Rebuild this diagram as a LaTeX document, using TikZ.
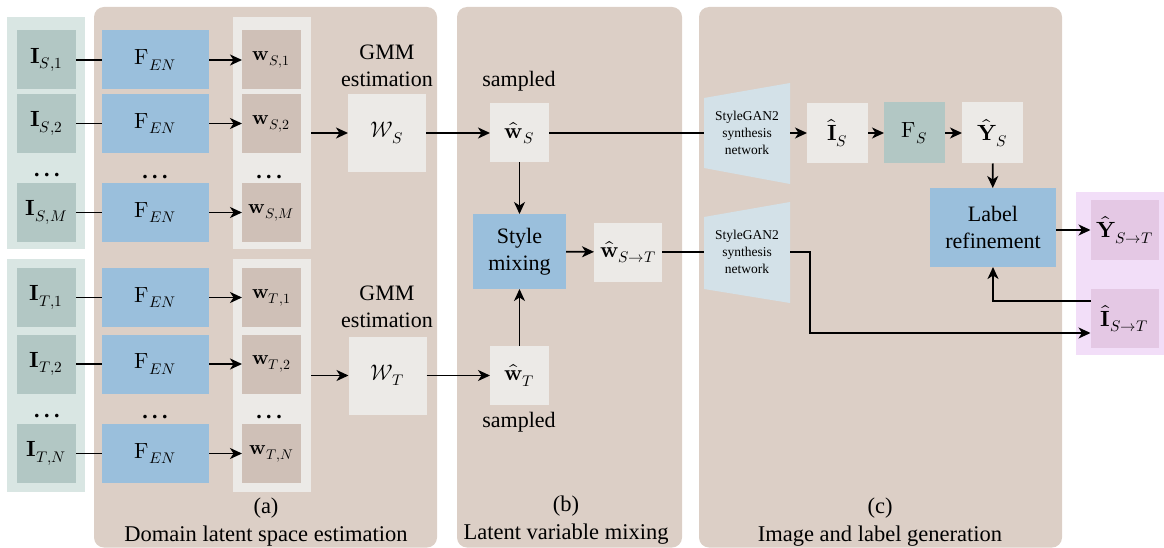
\documentclass[tikz,border=0pt]{standalone}
\usepackage{unicode-math}
\setmainfont{Liberation Serif}
\setmathfont{Latin Modern Math}
\usetikzlibrary{arrows.meta,calc}
\definecolor{cPanel}{HTML}{DCCFC6}
\definecolor{cGreenBg}{HTML}{D9E6E3}
\definecolor{cI}{HTML}{B2C7C4}
\definecolor{cF}{HTML}{9ABFDC}
\definecolor{cLight}{HTML}{ECEAE7}
\definecolor{cW}{HTML}{CFC0B7}
\definecolor{cSG}{HTML}{D3E1E8}
\definecolor{cPurpleBg}{HTML}{F2DEF8}
\definecolor{cPurple}{HTML}{E4C8E4}
\begin{document}
\begin{tikzpicture}[x=1pt,y=-1pt,
  every node/.style={font=\fontsize{22}{27}\selectfont, inner sep=0pt, outer sep=0pt},
  ibox/.style={fill=cI, minimum width=59pt, minimum height=59pt},
  fenbox/.style={fill=cF, minimum width=107pt, minimum height=59pt},
  wbox/.style={fill=cW, minimum width=59pt, minimum height=59pt, font=\fontsize{20}{24}\selectfont},
  lbox/.style={fill=cLight, minimum width=59pt, minimum height=59pt},
  pbox/.style={fill=cPurple, minimum width=68pt, minimum height=59pt},
  sgtext/.style={font=\fontsize{13.5}{17}\selectfont, align=center, minimum width=86pt, minimum height=70pt},
  captext/.style={font=\fontsize{22.5}{27}\selectfont},
  conn/.style={line width=1.7pt},
  arr/.style={conn, -{Stealth[length=12pt,width=11pt,inset=3.5pt]}},
  dotsnode/.style={font=\fontsize{22}{27}\selectfont\bfseries}
]
\useasboundingbox (0,0) rectangle (1164,548);
% panels
\fill[cPanel, rounded corners=10pt] (94,7) rectangle (437,547.5);
\fill[cPanel, rounded corners=10pt] (457,7) rectangle (682,547.5);
\fill[cPanel, rounded corners=10pt] (699,7) rectangle (1062,547.5);
\node[fill=cGreenBg, minimum width=78pt, minimum height=232pt] (gS) at (46,133) {};
\node[fill=cGreenBg, minimum width=78pt, minimum height=233pt] (gT) at (46,375.5) {};
\node[fill=cLight, minimum width=78pt, minimum height=232pt] (wcolS) at (272,133) {};
\node[fill=cLight, minimum width=78pt, minimum height=233pt] (wcolT) at (272,375.5) {};
\node[fill=cPurpleBg, minimum width=88pt, minimum height=163pt] (pbg) at (1120,273.5) {};

% source column
\node[ibox] (is1) at (46.5,60) {$\symbf{I}_{S,1}$};
\node[ibox] (is2) at (46.5,123.5) {$\symbf{I}_{S,2}$};
\node[ibox] (ism) at (46.5,212.5) {$\symbf{I}_{S,M}$};
\node[fenbox] (fs1) at (155.5,60) {$\symup{F}_{EN}$};
\node[fenbox] (fs2) at (155.5,123.5) {$\symup{F}_{EN}$};
\node[fenbox] (fsm) at (155.5,212.5) {$\symup{F}_{EN}$};
\node[wbox] (ws1) at (271.5,60) {$\symbf{w}_{S,1}$};
\node[wbox] (ws2) at (271.5,123.5) {$\symbf{w}_{S,2}$};
\node[wbox] (wsm) at (271.5,212.5) {$\symbf{w}_{S,M}$};
\node[dotsnode] (d1) at (47,175) {.\kern4.5pt.\kern4.5pt.};
\node[dotsnode] (d2) at (155,177) {.\kern4.5pt.\kern4.5pt.};
\node[dotsnode] (d3) at (269,177) {.\kern4.5pt.\kern4.5pt.};

% target column
\node[ibox] (it1) at (46.5,297.5) {$\symbf{I}_{T,1}$};
\node[ibox] (it2) at (46.5,364) {$\symbf{I}_{T,2}$};
\node[ibox] (itn) at (46.5,453.5) {$\symbf{I}_{T,N}$};
\node[fenbox] (ft1) at (155.5,297.5) {$\symup{F}_{EN}$};
\node[fenbox] (ft2) at (155.5,364) {$\symup{F}_{EN}$};
\node[fenbox] (ftn) at (155.5,453.5) {$\symup{F}_{EN}$};
\node[wbox] (wt1) at (271.5,297.5) {$\symbf{w}_{T,1}$};
\node[wbox] (wt2) at (271.5,364) {$\symbf{w}_{T,2}$};
\node[wbox] (wtn) at (271.5,453.5) {$\symbf{w}_{T,N}$};
\node[dotsnode] (d4) at (47,416) {.\kern4.5pt.\kern4.5pt.};
\node[dotsnode] (d5) at (155,417) {.\kern4.5pt.\kern4.5pt.};
\node[dotsnode] (d6) at (269,417) {.\kern4.5pt.\kern4.5pt.};

% GMM
\node[align=center] (gmmS) at (387,66) {GMM\\estimation};
\node[align=center] (gmmT) at (387,306.5) {GMM\\estimation};
\node[fill=cLight, minimum width=78pt, minimum height=78pt] (WS) at (387,133) {$\symcal{W}_S$};
\node[fill=cLight, minimum width=78pt, minimum height=78pt] (WT) at (387.5,375.5) {$\symcal{W}_T$};

% panel b
\node (sampS) at (519,81) {sampled};
\node (sampT) at (519,422) {sampled};
\node[lbox] (whs) at (519.5,133) {$\hat{\symbf{w}}_S$};
\node[lbox] (wht) at (519.5,375.5) {$\hat{\symbf{w}}_T$};
\node[fill=cF, minimum width=93pt, minimum height=75pt, align=center] (mix) at (519.5,251.5) {Style\\mixing};
\node[lbox, minimum width=68pt] (wst) at (628,252) {$\hat{\symbf{w}}_{S\rightarrow T}$};

% panel c
\fill[cSG] (704,98) -- (790,83) -- (790,184) -- (704,168) -- cycle;
\fill[cSG] (704,217) -- (790,202) -- (790,303) -- (704,289) -- cycle;
\node[sgtext] (sg1) at (747,133) {StyleGAN2\\synthesis\\network};
\node[sgtext] (sg2) at (747,252) {StyleGAN2\\synthesis\\network};
\node[lbox, minimum width=61pt, minimum height=60pt] (ihs) at (837.5,133) {$\hat{\symbf{I}}_S$};
\node[fill=cI, minimum width=61pt, minimum height=61pt] (fS) at (914.5,133) {$\symup{F}_S$};
\node[lbox, minimum width=61pt, minimum height=61pt] (yhs) at (992.5,133) {$\hat{\symbf{Y}}_S$};
\node[fill=cF, minimum width=126pt, minimum height=79pt, align=center] (lr) at (993,227.5) {Label\\refinement};
\node[pbox] (yst) at (1124.5,230) {$\hat{\symbf{Y}}_{S\rightarrow T}$};
\node[pbox] (ist) at (1124.5,318.5) {$\hat{\symbf{I}}_{S\rightarrow T}$};

% captions
\node[captext] (capa) at (266,508) {(a)};
\node[captext] (capa2) at (266,536) {Domain latent space estimation};
\node[captext] (capb) at (566,506) {(b)};
\node[captext] (capb2) at (566,534) {Latent variable mixing};
\node[captext] (capc) at (880,508) {(c)};
\node[captext] (capc2) at (880,536) {Image and label generation};

% connectors
\foreach \a/\b/\c in {is1/fs1/ws1, is2/fs2/ws2, ism/fsm/wsm, it1/ft1/wt1, it2/ft2/wt2, itn/ftn/wtn}{
  \draw[conn] (\a) -- (\b);
  \draw[arr] (\b) -- (\c);
}
\draw[arr] (wcolS.east |- WS.west) -- (WS.west);
\draw[arr] (wcolT.east |- WT.west) -- (WT.west);
\draw[arr] (WS) -- (whs);
\draw[arr] (WT) -- (wht);
\draw[arr] (whs) -- (mix);
\draw[arr] (wht) -- (mix);
\draw[arr] (mix) -- (wst);
\draw[conn] (whs) -- (sg1.west);
\draw[conn] (wst) -- (sg2.west);
\draw[arr] (sg1.east) -- (ihs);
\draw[arr] (ihs) -- (fS);
\draw[arr] (fS) -- (yhs);
\draw[arr] (yhs) -- (lr);
\draw[arr] (yst.west -| lr.east) -- (yst.west);
\coordinate (bend) at (810,333);
\draw[arr] (sg2.east) -| (bend) -- (bend -| ist.west);
\draw[arr] ([yshift=17.5pt]ist.west) -| (lr.south);
\end{tikzpicture}
\end{document}
